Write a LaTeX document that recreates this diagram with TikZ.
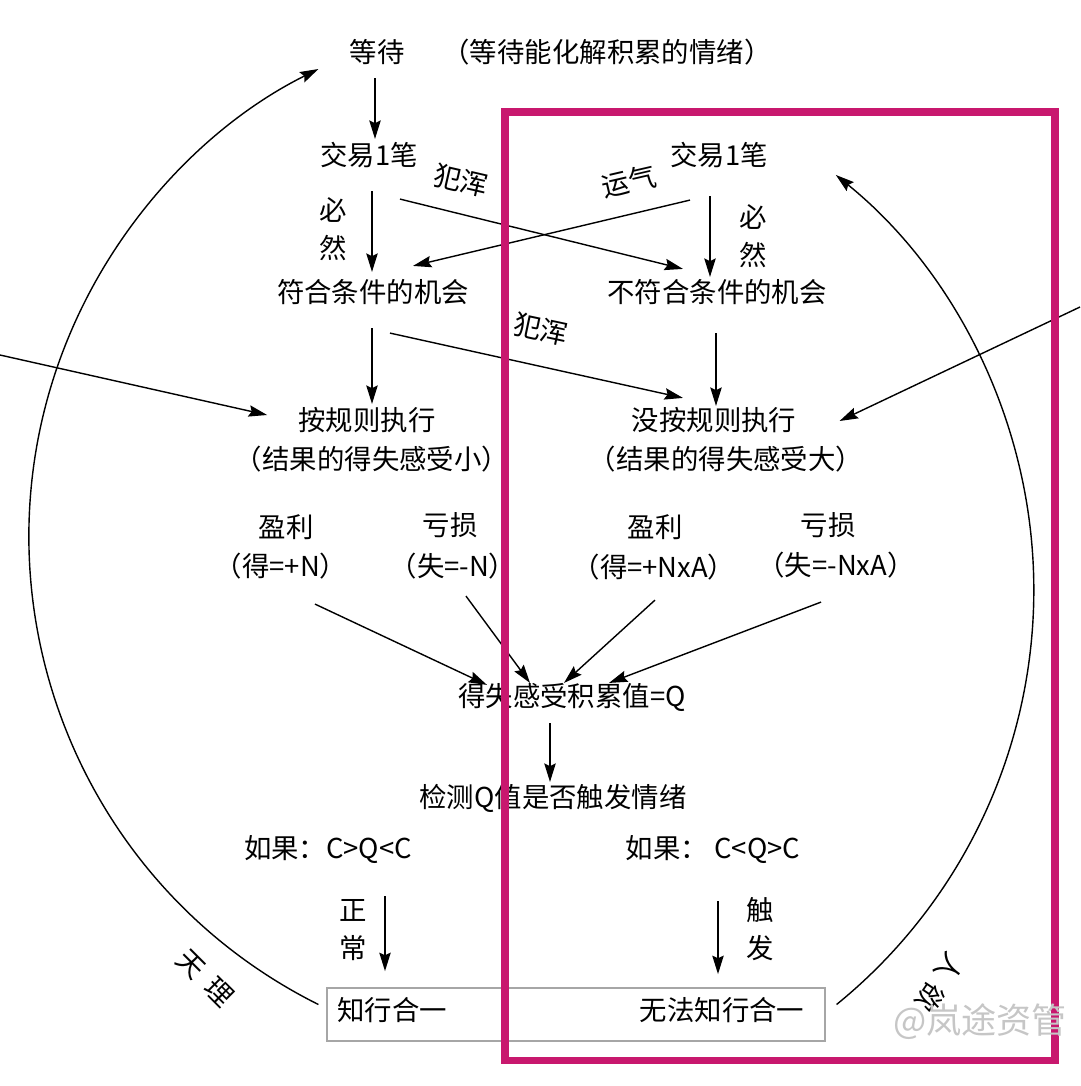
\documentclass[tikz,border=0pt]{standalone}
\usepackage{fontspec}
\setmainfont{Noto Sans CJK SC}
\usetikzlibrary{arrows.meta,calc}

\definecolor{framepink}{RGB}{200,24,110}

\begin{document}
\begin{tikzpicture}[x=0.02cm, y=-0.02cm,
    txt/.style={inner sep=0pt, text height=0.76em, text depth=0.12em,
        font=\fontsize{15.6}{21}\selectfont},
    vlbl/.style={inner sep=0pt, align=center, font=\fontsize{15.6}{21.5}\selectfont},
    arr/.style={black, line width=0.8pt, -{Stealth[length=10.5pt,width=6.5pt,inset=1.5pt]}}]
    \useasboundingbox (0,0) rectangle (1080,1086);

    % Top of the loop.
        \node[txt] (wait) at (377,57) {等待};
        \node[txt] (note) at (607,57) {（等待能化解积累的情绪）};
        \node[txt] (tradeL) at (369,160) {交易1笔};
        \node[txt] (tradeR) at (719,160) {交易1笔};
        \node[txt] (fit) at (373,297) {符合条件的机会};
        \node[txt] (notfit) at (717,297) {不符合条件的机会};
        \node[txt] (rule) at (367,425) {按规则执行};
        \node[txt] (ruleN) at (372,464) {（结果的得失感受小）};
        \node[txt] (norule) at (714,425) {没按规则执行};
        \node[txt] (noruleN) at (726,464) {（结果的得失感受大）};
    % Gains and losses.
        \node[txt] (gainL) at (286,532) {盈利};
        \node[txt] (gainLN) at (281,571) {（得=+N）};
        \node[txt] (lossL) at (450,530) {亏损};
        \node[txt] (lossLN) at (453,571) {（失=-N）};
        \node[txt] (gainR) at (655,532) {盈利};
        \node[txt] (gainRN) at (654,572) {（得=+NxA）};
        \node[txt] (lossR) at (828,530) {亏损};
        \node[txt] (lossRN) at (836,570) {（失=-NxA）};
        \node[txt] (accum) at (572,701) {得失感受积累值=Q};
        \node[txt] (check) at (553,802) {检测Q值是否触发情绪};
        \node[txt] (ifL) at (328,853) {如果：C>Q<C};
        \node[txt] (ifR) at (713,853) {如果： C<Q>C};
    % The result box.
        \node[draw=gray!70, line width=0.7pt, inner sep=0pt, minimum width=9.96cm,
            minimum height=1.06cm] (resbox) at (576,1014.5) {};
        \node[txt] (know) at (392,1015) {知行合一};
        \node[txt] (cannot) at (722,1015) {无法知行合一};

    % Below nodes are the labels.
        \node[vlbl] (biL) at (333,229) {必\\然};
        \node[vlbl] (biR) at (753,236) {必\\然};
        \node[txt, rotate=-13] (fhA) at (460,185) {犯浑};
        \node[txt, rotate=13] (luck) at (630,186) {运气};
        \node[txt, rotate=-12] (fhB) at (540,334) {犯浑};
        \node[vlbl] (normal) at (353,930) {正\\常};
        \node[vlbl] (trig) at (760,929) {触\\发};
        \node[txt, rotate=-45] (tianli) at (202,981) {天\hspace{0.45em}理};
        \node[txt, rotate=-124] (renyu) at (936,980) {人\hspace{0.3em}欲};

    % Arrows between the steps.
        \draw[arr] ($(wait.south)+(-2,13)$) -- ($(tradeL.north)+(6,-13)$);
        \draw[arr] ($(tradeL.south)+(3,23)$) -- ($(fit.north)+(-1,-17)$);
        \draw[arr] ($(tradeL.south)+(31,31)$) -- ($(notfit.north)+(-34,-20)$);
        \draw[arr] ($(tradeR.south)+(-29,32)$) -- ($(fit.north)+(40,-23)$);
        \draw[arr] ($(tradeR.south)+(-9,28)$) -- ($(notfit.north)+(-7,-12)$);
        \draw[arr] ($(fit.south)+(-1,23)$) -- ($(rule.north)+(5,-13)$);
        \draw[arr] ($(notfit.south)+(-1,28)$) -- ($(norule.north)+(2,-11)$);
        \draw[arr] ($(fit.south)+(17,28)$) -- ($(norule.north)+(-31,-19)$);
        \coordinate (inL) at (0,355);
        \coordinate (inR) at (1080,307);
        \draw[arr] (inL) -- ($(rule.west)+(-31,-10)$);
        \draw[arr] (inR) -- ($(norule.east)+(43,-4)$);
        \draw[arr] ($(gainLN.south)+(34,25)$) -- ($(accum.north)+(-85,-8)$);
        \draw[arr] ($(lossLN.south)+(13,17)$) -- ($(accum.north)+(-42,-10)$);
        \draw[arr] ($(gainRN.south)+(1,20)$) -- ($(accum.north)+(-8,-10)$);
        \draw[arr] ($(lossRN.south)+(-15,24)$) -- ($(accum.north)+(37,-10)$);
        \draw[arr] ($(accum.south)+(-22,14)$) -- ($(check.north)+(-3,-12)$);
        \draw[arr] ($(ifL.south)+(57,35)$) -- ++(0,75);
        \draw[arr] ($(ifR.south)+(5,40)$) -- ++(0,73);
    % The two big arcs.
        \draw[arr] ($(resbox.west)+(-8,-10)$) arc[start angle=-116.5, end angle=-243.5, radius=10.456cm];
        \draw[arr] ($(resbox.east)+(11,-10)$) arc[start angle=-50.9, end angle=51, radius=10.684cm];

    % This draws the pink frame.
        \draw[framepink, line width=4pt] (505,112) rectangle (1055,1060);
        \node[inner sep=0pt, text=gray!45, font=\fontsize{20}{23}\selectfont] (mark) at (980,1022) {@岚途资管};
\end{tikzpicture}
\end{document}
